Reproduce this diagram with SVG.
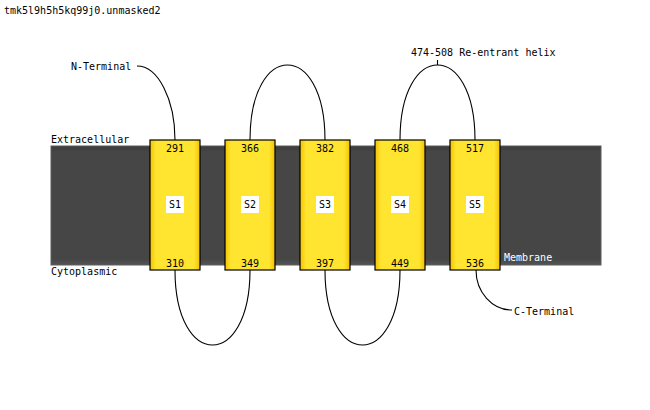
<svg xmlns="http://www.w3.org/2000/svg" width="650" height="410" viewBox="0 0 650 410">
<style>
text{font-family:"DejaVu Sans Mono","Liberation Mono",monospace;font-size:10px;fill:#000}
.c{text-anchor:middle}
.w{fill:#fff}
.helix{fill:url(#hg);stroke:#000;stroke-width:1.2}
.lab{fill:#fff}
.loop{fill:none;stroke:#000;stroke-width:1.1}
</style>
<defs>
<linearGradient id="hg" x1="0" x2="1" y1="0" y2="0">
<stop offset="0" stop-color="#f2c200"/>
<stop offset="0.12" stop-color="#ffe430"/>
<stop offset="0.88" stop-color="#ffe430"/>
<stop offset="1" stop-color="#f2c200"/>
</linearGradient>
<linearGradient id="mg" x1="0" x2="0" y1="0" y2="1">
<stop offset="0" stop-color="#3a3a3a"/>
<stop offset="0.05" stop-color="#464646"/>
<stop offset="0.95" stop-color="#464646"/>
<stop offset="1" stop-color="#555"/>
</linearGradient>
</defs>
<rect width="650" height="410" fill="#fff"/>
<text x="4" y="14">tmk5l9h5h5kq99j0.unmasked2</text>
<g id="membrane">
<rect x="51" y="146" width="550" height="119" fill="url(#mg)" stroke="#5c5c5c" stroke-width="1"/>
<text x="51" y="143">Extracellular</text>
<text x="51" y="275">Cytoplasmic</text>
<text x="504" y="261" class="w">Membrane</text>
</g>
<g id="connectors">
<path class="loop" d="M137,66 A38,74 0 0 1 175,140"/>
<path class="loop" d="M250,140 C250,40 325,40 325,140"/>
<path class="loop" d="M400,140 C400,40 475,40 475,140"/>
<path class="loop" d="M437.5,65 V60"/>
<path class="loop" d="M175,270 C175,370 250,370 250,270"/>
<path class="loop" d="M325,270 C325,370 400,370 400,270"/>
<path class="loop" d="M476,270 A36,40 0 0 0 512,310"/>
<text x="71" y="70">N-Terminal</text>
<text x="411" y="56">474-508 Re-entrant helix</text>
<text x="514" y="315">C-Terminal</text>
</g>
<g id="S1">
<rect class="helix" x="150" y="140" width="50" height="130"/>
<text class="c" x="175" y="152">291</text>
<text class="c" x="175" y="267">310</text>
<rect class="lab" x="166" y="196" width="18" height="17"/>
<text class="c" x="175" y="208">S1</text>
</g>
<g id="S2">
<rect class="helix" x="225" y="140" width="50" height="130"/>
<text class="c" x="250" y="152">366</text>
<text class="c" x="250" y="267">349</text>
<rect class="lab" x="241" y="196" width="18" height="17"/>
<text class="c" x="250" y="208">S2</text>
</g>
<g id="S3">
<rect class="helix" x="300" y="140" width="50" height="130"/>
<text class="c" x="325" y="152">382</text>
<text class="c" x="325" y="267">397</text>
<rect class="lab" x="316" y="196" width="18" height="17"/>
<text class="c" x="325" y="208">S3</text>
</g>
<g id="S4">
<rect class="helix" x="375" y="140" width="50" height="130"/>
<text class="c" x="400" y="152">468</text>
<text class="c" x="400" y="267">449</text>
<rect class="lab" x="391" y="196" width="18" height="17"/>
<text class="c" x="400" y="208">S4</text>
</g>
<g id="S5">
<rect class="helix" x="450" y="140" width="50" height="130"/>
<text class="c" x="475" y="152">517</text>
<text class="c" x="475" y="267">536</text>
<rect class="lab" x="466" y="196" width="18" height="17"/>
<text class="c" x="475" y="208">S5</text>
</g>
</svg>
